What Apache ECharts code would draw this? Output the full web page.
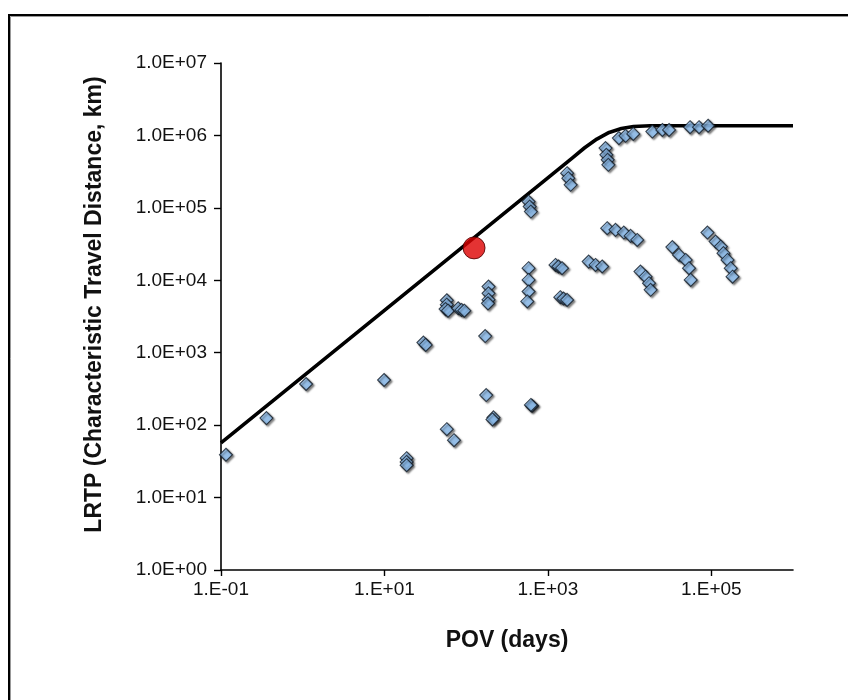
<!DOCTYPE html>
<html>
<head>
<meta charset="utf-8">
<script src="https://cdn.jsdelivr.net/npm/echarts@6/dist/echarts.min.js"></script>
<style>
  html, body { margin: 0; padding: 0; background: #fff; }
  #main { width: 848px; height: 700px; }
</style>
</head>
<body>
<div id="main"></div>
<script>
// measured chemicals (diamonds)
var pov = [0.115, 0.36, 1.1, 9.9, 30, 32, 18.7, 18.7, 18.7, 58, 71, 176, 216, 210, 171,
  58, 58, 56, 60, 80, 88, 95, 188, 188, 188, 185, 640, 620,
  581, 581, 581, 560, 1240, 1350, 1490, 1420, 1560, 1720,
  581, 600, 620, 1720, 1780, 1900, 5080, 5200, 5400, 5500,
  7400, 8930, 11100, 19000, 25200, 30400, 55000, 70800, 91400,
  5320, 6730, 8510, 10300, 12400,
  89700, 113000, 131000, 141000, 158000, 173000, 182000,
  33400, 40300, 48600, 53400, 56000,
  13600, 15700, 17300, 18100,
  3160, 3830, 4620];
var lrtp = [39, 125, 370, 420, 1380, 1280, 35, 31, 28, 88, 62, 260, 128, 120, 1700,
  5300, 4600, 4000, 3800, 4100, 3900, 3800, 8200, 6600, 5400, 4800, 185, 190,
  14700, 10100, 7000, 5100, 16300, 15500, 14700, 5840, 5600, 5360,
  122000, 104000, 89000, 301000, 257000, 208000, 668000, 540000, 460000, 393000,
  918000, 987000, 1050000, 1130000, 1190000, 1190000, 1300000, 1300000, 1360000,
  52400, 49700, 45600, 41000, 36100,
  45600, 34300, 29200, 23700, 19100, 14700, 11200,
  28700, 22400, 19100, 14700, 10100,
  13200, 11200, 9120, 7380,
  18100, 16300, 15500];

// upper limit curve
var limitPov = [0.1, 1000, 2000, 2820, 3980, 5620, 7940, 11200, 17800, 1000000];
var limitLrtp = [57, 260000, 490000, 676000, 891000, 1100000, 1245000, 1330000, 1360000, 1360000];

// highlighted chemical (red circle)
var markPov = [125];
var markLrtp = [28000];

var xTicks = [0.1, 10, 1000, 100000];
var yTicks = [1, 10, 100, 1000, 10000, 100000, 1000000, 10000000];

function pairs(xs, ys) {
  var out = [];
  for (var i = 0; i < xs.length; i++) {
    out.push([xs[i], ys[i]]);
  }
  return out;
}

function expo(v) {
  var e = Math.round(Math.log10(v));
  return (e < 0 ? '-' : '+') + String(Math.abs(e)).padStart(2, '0');
}

var font = "'Liberation Sans', Arial, sans-serif";

var chart = echarts.init(document.getElementById('main'), null, { renderer: 'canvas' });
var option = {
  animation: false,
  backgroundColor: '#fff',
  graphic: [{
    type: 'rect',
    shape: { x: 9, y: 15, width: 900, height: 800 },
    style: { fill: 'none', stroke: '#000', lineWidth: 2 },
    silent: true
  }, {
    type: 'rect',
    shape: { x: 10.5, y: 16.5, width: 900, height: 800 },
    style: { fill: 'none', stroke: '#999', lineWidth: 1 },
    silent: true
  }],
  grid: { left: 221, right: 55, top: 63, bottom: 130 },
  xAxis: {
    type: 'log',
    logBase: 10,
    min: 0.1,
    max: 1000000,
    name: 'POV (days)',
    nameLocation: 'middle',
    nameGap: 59,
    nameTextStyle: { fontFamily: font, fontWeight: 'bold', fontSize: 23, color: '#111' },
    axisLine: { onZero: false, lineStyle: { color: '#000', width: 1.6 } },
    axisTick: { show: true, length: 6, customValues: xTicks, lineStyle: { color: '#000', width: 1.4 } },
    axisLabel: {
      customValues: xTicks,
      margin: 10,
      fontFamily: font,
      fontSize: 19,
      color: '#111',
      formatter: function (v) { return '1.E' + expo(v); }
    },
    splitLine: { show: false },
    minorTick: { show: false }
  },
  yAxis: {
    type: 'log',
    logBase: 10,
    min: 1,
    max: 10000000,
    name: 'LRTP (Characteristic Travel Distance, km)',
    nameLocation: 'middle',
    nameGap: 115,
    nameTextStyle: { fontFamily: font, fontWeight: 'bold', fontSize: 23, color: '#111', padding: [0, 0, 0, 24] },
    axisLine: { onZero: false, lineStyle: { color: '#000', width: 1.6 } },
    axisTick: { show: true, length: 7, customValues: yTicks, lineStyle: { color: '#000', width: 1.4 } },
    axisLabel: {
      customValues: yTicks,
      margin: 14,
      fontFamily: font,
      fontSize: 19,
      color: '#111',
      formatter: function (v) { return '1.0E' + expo(v); }
    },
    splitLine: { show: false }
  },
  series: [{
    name: 'limit',
    type: 'line',
    data: pairs(limitPov, limitLrtp),
    showSymbol: false,
    symbol: 'none',
    smooth: false,
    lineStyle: { color: '#000', width: 3.6, join: 'round' },
    z: 2
  }, {
    name: 'chemicals',
    type: 'scatter',
    data: pairs(pov, lrtp),
    symbol: 'diamond',
    symbolSize: 13,
    itemStyle: {
      color: '#99ccff',
      borderColor: '#101a26',
      borderWidth: 1.1,
      shadowColor: 'rgba(0,0,0,0.6)',
      shadowBlur: 2,
      shadowOffsetX: 1.5,
      shadowOffsetY: 1.5
    },
    z: 3
  }, {
    name: 'highlight',
    type: 'scatter',
    data: pairs(markPov, markLrtp),
    symbol: 'circle',
    symbolSize: 22,
    itemStyle: { color: '#dd0000', borderColor: '#4a0000', borderWidth: 1 },
    z: 4
  }]
};
chart.setOption(option);
</script>
</body>
</html>
